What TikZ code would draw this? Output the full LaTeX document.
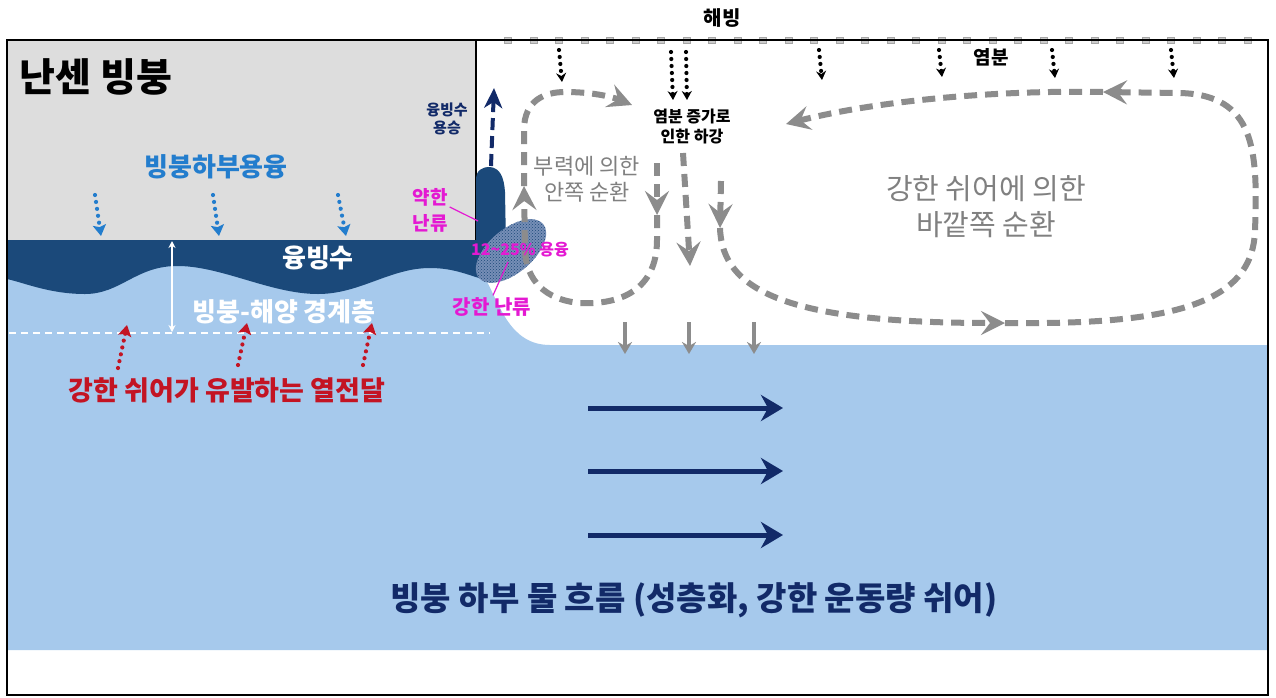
\documentclass[tikz,border=0pt]{standalone}
\usepackage{fontspec}
\setmainfont{Noto Sans CJK KR}
\usetikzlibrary{arrows.meta,patterns}

\definecolor{icegray}{RGB}{221,221,221}
\definecolor{melt}{RGB}{27,73,122}
\definecolor{deepnavy}{RGB}{18,42,104}
\definecolor{ocean}{RGB}{166,201,236}
\definecolor{circgray}{RGB}{140,140,140}
\definecolor{txtgray}{RGB}{128,128,128}
\definecolor{meltblue}{RGB}{35,125,205}
\definecolor{heatred}{RGB}{195,20,35}
\definecolor{pink}{RGB}{228,25,210}
\definecolor{blobbg}{RGB}{118,142,182}

\newcommand\kfs[2]{\fontsize{#1}{#2}\selectfont}

\tikzset{
  lbl/.style={inner sep=0pt, align=center},
  circ/.style={draw=circgray, line width=6pt, dash pattern=on 13pt off 8pt,
    -{Stealth[length=24pt,width=24pt,inset=9pt]}},
  sink/.style={draw=circgray, line width=3.5pt,
    -{Stealth[length=12pt,width=14pt,inset=4pt]}},
  flow/.style={draw=deepnavy, line width=5pt,
    -{Stealth[length=22pt,width=26pt,inset=7pt]}},
  salt/.style={draw=black, line width=4.2pt, line cap=round, dash pattern=on 0pt off 7pt,
    -{Stealth[length=9pt,width=10pt,inset=3pt]}},
  meltdrop/.style={draw=meltblue, line width=4.2pt, line cap=round, dash pattern=on 0pt off 7pt,
    -{Stealth[length=11pt,width=13pt,inset=2pt]}},
  heat/.style={draw=heatred, line width=4.2pt, line cap=round, dash pattern=on 0pt off 7pt,
    -{Stealth[length=11pt,width=13pt,inset=2pt]}},
  leader/.style={draw=pink, line width=1.2pt},
  icemark/.style={draw=gray!70, fill=gray!40, line width=0.5pt, minimum width=7pt,
    minimum height=6pt, inner sep=0pt, shape=rectangle}
}

\begin{document}
\begin{tikzpicture}[x=1pt,y=-1pt]
\useasboundingbox (0,0) rectangle (1276,697);
\fill[white] (0,0) rectangle (1276,697);

% ocean below the shelf and the open water column
\fill[ocean] (7,245) -- (486,245) -- (486,280)
  .. controls (500,305) and (510,345) .. (550,345)
  -- (1268,345) -- (1268,650) -- (7,650) -- cycle;

% ice shelf
\fill[icegray] (7,40) rectangle (476,240);
\draw[line width=1.5pt] (476,40) -- (476,240);

% meltwater layer and plume along the ice front
\fill[melt] (7,240) -- (476,240) -- (476,180)
  .. controls (476,170) and (482,167) .. (490,167)
  .. controls (500,168) and (504,177) .. (505,192)
  -- (506,245)
  .. controls (505,262) and (495,275) .. (486,280)
  .. controls (470,276) and (455,268) .. (430,268)
  .. controls (390,268) and (360,294) .. (318,294)
  .. controls (270,294) and (220,265) .. (175,266)
  .. controls (135,267) and (120,294) .. (85,294)
  .. controls (50,294) and (25,283) .. (7,279) -- cycle;

% turbulent melting zone
\fill[blobbg, rotate around={40:(511,251)}] (511,251) ellipse [x radius=42, y radius=22];
\fill[pattern=crosshatch dots, pattern color=melt, rotate around={40:(511,251)}]
  (511,251) ellipse [x radius=42, y radius=22];

% boundary-layer base and thickness
\draw[white, line width=1.2pt, dash pattern=on 7pt off 5pt] (9,333) -- (490,333);
\draw[white, line width=1.2pt, {Stealth[length=7pt,width=7pt]}-{Stealth[length=7pt,width=7pt]}]
  (172,241) -- (172,332);

% sea ice with markers
\draw[line width=2pt] (476,40) -- (1268,40);
\foreach \k in {0,...,29}
  \node[icemark] (ice\k) at ({508+25.5*\k},40) {};

% frame
\draw[line width=2pt] (7,40) rectangle (1268,695);

% salt rejection from sea ice
\draw[salt] (559,50) -- (562,82);
\draw[salt] (671,52) -- (673,100);
\draw[salt] (686,52) -- (687,100);
\draw[salt] (819,50) -- (822,80);
\draw[salt] (939,50) -- (942,77);
\draw[salt] (1052,50) -- (1055,78);
\draw[salt] (1171,50) -- (1174,78);

% basal melting
\draw[meltdrop] (95,195) -- (101,236);
\draw[meltdrop] (213,195) -- (219,236);
\draw[meltdrop] (338,195) -- (346,236);

% shear-driven heat transfer
\draw[heat] (118,368) -- (127,325);
\draw[heat] (238,365) -- (247,323);
\draw[heat] (363,365) -- (372,323);

% meltwater upwelling
\draw[draw=deepnavy, line width=4pt, dash pattern=on 12pt off 6pt,
  -{Stealth[length=20pt,width=18pt,inset=6pt]}] (491,166) -- (494,88);

% inner (buoyancy) circulation
\draw[circ] (657,163) -- (657,215);
\draw[circ] (657,215) -- (657,240)
  .. controls (657,290) and (620,305) .. (580,303)
  .. controls (545,300) and (526,280) .. (525,250) -- (524,186);
\draw[circ] (524,186) -- (524,130)
  .. controls (524,100) and (545,92) .. (565,92)
  .. controls (590,92) and (610,96) .. (632,105);

% sinking by salt increase
\draw[circ] (683,153) -- (690,266);

% outer (shear) circulation
\draw[circ] (721,181) -- (720,228);
\draw[circ] (720,228) .. controls (722,292) and (790,323) .. (1005,323);
\draw[circ] (1005,323) .. controls (1170,325) and (1253,305) .. (1255,230)
  .. controls (1258,150) and (1255,95) .. (1180,93) -- (1103,92);
\draw[circ] (1103,92) .. controls (1000,90) and (880,100) .. (786,124);

% export into the ocean
\draw[sink] (625,322) -- (625,354);
\draw[sink] (689,322) -- (689,354);
\draw[sink] (754,322) -- (754,354);

% under-shelf current
\draw[flow] (588,408) -- (783,408);
\draw[flow] (588,471) -- (783,471);
\draw[flow] (588,535) -- (783,535);

% labels
\node[lbl, font=\kfs{39}{42}\bfseries] (title) at (96,77) {난센 빙붕};
\node[lbl, font=\kfs{20}{22}\bfseries] (seaice) at (722,18) {해빙};
\node[lbl, font=\kfs{19}{22}\bfseries] (salttxt) at (991,57) {염분};
\node[lbl, font=\kfs{16}{20}\bfseries] (sinktxt) at (692,127) {염분 증가로\\인한 하강};
\node[lbl, font=\kfs{15}{18}\bfseries, text=deepnavy] (upwell) at (447,119) {융빙수\\용승};
\node[lbl, font=\kfs{26}{28}\bfseries, text=meltblue] (basal) at (216,167) {빙붕하부용융};
\node[lbl, font=\kfs{26}{28}\bfseries, text=white] (mw) at (318,258) {융빙수};
\node[lbl, font=\kfs{26}{28}\bfseries, text=white] (bl) at (284,312) {빙붕-해양 경계층};
\node[lbl, font=\kfs{27}{30}\bfseries, text=heatred] (heattxt) at (227,390) {강한 쉬어가 유발하는 열전달};
\node[lbl, font=\kfs{22}{26}, text=txtgray] (inner) at (587,179) {부력에 의한\\안쪽 순환};
\node[lbl, font=\kfs{29}{36}, text=txtgray] (outer) at (986,207) {강한 쉬어에 의한\\바깥쪽 순환};
\node[lbl, font=\kfs{19}{26}\bfseries, text=pink] (weak) at (430,210) {약한\\난류};
\node[lbl, font=\kfs{16}{18}\bfseries, text=pink] (melting) at (520,250) {12\textasciitilde25\% 용융};
\node[lbl, font=\kfs{20}{22}\bfseries, text=pink] (strong) at (492,307) {강한 난류};
\node[lbl, font=\kfs{33}{36}\bfseries, text=deepnavy] (current) at (694,600)
  {빙붕 하부 물 흐름 (성층화, 강한 운동량 쉬어)};

% leaders for turbulence labels
\coordinate (weakpt) at (478,221);
\coordinate (strongpt) at (508,262);
\draw[leader] (weak.east) ++(2,-3) -- (weakpt);
\draw[leader] (strong.north) ++(1,-2) -- (strongpt);
\end{tikzpicture}
\end{document}
